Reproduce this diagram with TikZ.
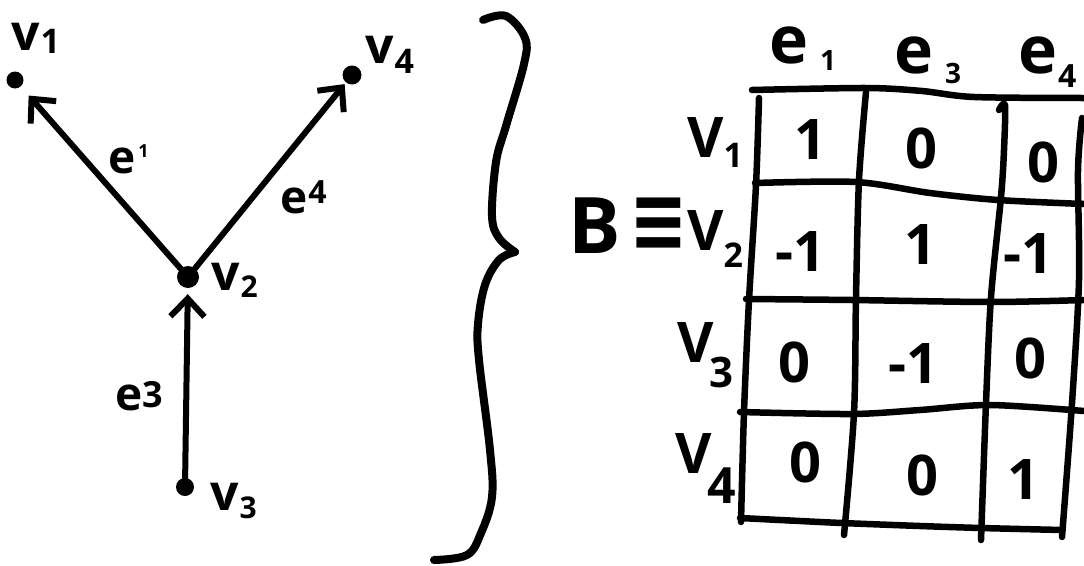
\documentclass[tikz,border=0pt]{standalone}
\usepackage{graphicx}
\usepackage{fontspec}
\setmainfont{Open Sans}
\newfontfamily\symfont{DejaVu Sans}
\usetikzlibrary{arrows.meta}

% font size in points (1pt = 1px of the canvas)
\newcommand\fs[1]{\fontsize{#1}{#1}\selectfont}
% index after a letter: gap, vertical shift, size, text
\newcommand\idx[4]{\hspace{#1}\raisebox{#2}{\fs{#3}#4}}

\begin{document}
\begin{tikzpicture}[x=1pt, y=-1pt, line cap=round, line join=round,
  ink/.style={line width=6pt},
  grid/.style={line width=6.5pt},
  vertex/.style={circle, fill, inner sep=0pt, minimum size=#1},
  edgearrow/.style={ink, -{Straight Barb[length=18pt, width=34pt]}},
  glab/.style={inner sep=0pt, anchor=base west, font=\bfseries\fs{50}},
  elab/.style={inner sep=0pt, anchor=base west, font=\bfseries\fs{46}},
  head/.style={inner sep=0pt, anchor=base west, font=\bfseries\fs{66}},
  rowlab/.style={inner sep=0pt, anchor=base west, font=\bfseries\fs{56}},
  cell/.style={inner sep=0pt, font=\bfseries\fs{56}}]
\useasboundingbox (0,0) rectangle (1084,565);

% ---------------- directed graph ----------------
\node[vertex=17pt] (v1) at (15,80) {};
\node[vertex=19pt] (v4) at (352,75) {};
\node[vertex=22pt] (v2) at (188,277) {};
\node[vertex=18pt] (v3) at (185,487) {};

\draw[edgearrow, shorten >=12pt] (v2) -- (v1);
\draw[edgearrow, shorten >=2pt] (v2) -- (v4);
\draw[edgearrow, shorten >=6pt] (v3) -- (v2);

\node[glab] (lv1) at (11,50) {v\idx{1pt}{-3pt}{34}{1}};
\node[glab] (lv4) at (365,63) {v\idx{1pt}{-10pt}{34}{4}};
\node[glab] (lv2) at (211,290) {v\idx{1pt}{-7pt}{30}{2}};
\node[glab] (lv3) at (210,510) {v\idx{1pt}{-8pt}{30}{3}};

\node[elab] (le1) at (108,173) {e\idx{3pt}{16pt}{18}{1}};
\node[elab] (le4) at (280,213) {e\idx{1pt}{10pt}{32}{4}};
\node[elab] (le3) at (115,410) {e\idx{0pt}{3pt}{36}{3}};

% ---------------- brace ----------------
\draw[line width=8pt] plot[smooth, tension=0.6] coordinates {
  (483,20) (506,16) (525,38) (524,64) (506,126) (496,162) (492,216) (499,238) (515,252)};
\draw[line width=8pt] plot[smooth, tension=0.6] coordinates {
  (515,252) (499,260) (485,285) (478,324) (479,360) (490,450) (492,497) (481,533) (467,555) (434,560)};

% ---------------- incidence matrix ----------------
\node[inner sep=0pt, anchor=base west, font=\bfseries\fs{78}] (B) at (568,253) {B};
\node[inner sep=0pt, font=\symfont\bfseries\fs{70}] (eq) at (659,225) {\scalebox{1}[1.3]{≡}};

\node[head] (h1) at (769,63) {e\idx{12pt}{-7pt}{28}{1}};
\node[head] (h3) at (894,73) {e\idx{12pt}{-10pt}{28}{3}};
\node[head] (h4) at (1018,73) {e\idx{1pt}{-14pt}{32}{4}};

\node[rowlab] (r1) at (687,157) {V\idx{0pt}{-10pt}{34}{1}};
\node[rowlab] (r2) at (687,250) {V\idx{0pt}{-17pt}{34}{2}};
\node[rowlab] (r3) at (677,362) {V\idx{-4pt}{-25pt}{42}{3}};
\node[rowlab] (r4) at (675,473) {V\idx{-4pt}{-30pt}{50}{4}};

% grid lines
\draw[grid] plot[smooth] coordinates {(752,90) (866,88) (922,91) (974,97) (1084,98)};
\draw[grid] plot[smooth] coordinates {(755,183) (856,182) (930,193) (998,200) (1084,204)};
\draw[grid] plot[smooth] coordinates {(746,299) (852,300) (991,302) (1084,300)};
\draw[grid] plot[smooth] coordinates {(740,412) (852,414) (920,410) (990,405) (1084,411)};
\draw[grid] plot[smooth] coordinates {(740,518) (800,521) (842,523) (920,526) (981,528) (1062,530)};

\draw[grid] plot[smooth] coordinates {(759,98) (756,185) (749,300) (744,412) (741,522)};
\draw[grid] plot[smooth] coordinates {(866,92) (859,180) (856,297) (854,413) (844,535)};
\draw[grid] plot[smooth] coordinates {(999,110) (1005,105) (1004,150) (1001,197) (991,297) (986,403) (981,540)};
\draw[grid] plot[smooth] coordinates {(1082,118) (1078,170) (1079,280) (1072,403) (1062,537)};

% entries
\node[cell] (c11) at (810,140) {1};
\node[cell] (c12) at (921,148) {0};
\node[cell] (c13) at (1043,162) {0};
\node[cell] (c21) at (800,252) {-1};
\node[cell] (c22) at (920,245) {1};
\node[cell] (c23) at (1028,254) {-1};
\node[cell] (c31) at (794,362) {0};
\node[cell] (c32) at (913,364) {-1};
\node[cell] (c33) at (1030,358) {0};
\node[cell] (c41) at (805,462) {0};
\node[cell] (c42) at (922,475) {0};
\node[cell] (c43) at (1023,480) {1};
\end{tikzpicture}
\end{document}
